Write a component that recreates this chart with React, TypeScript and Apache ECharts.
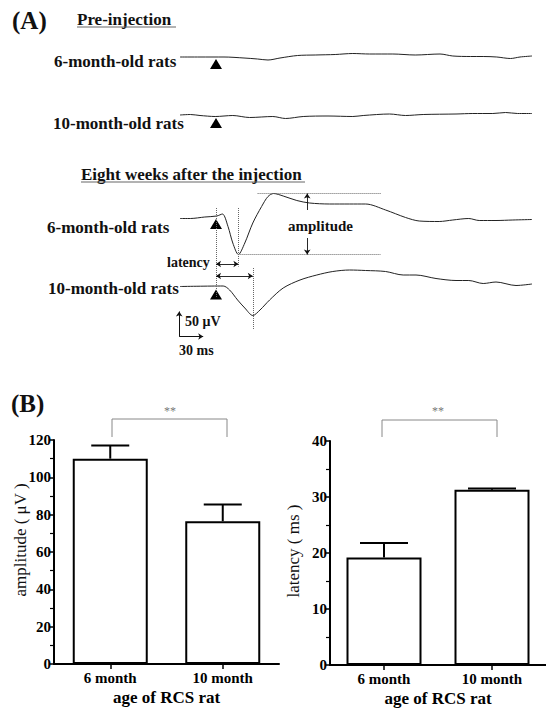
import React, { useEffect, useRef } from "react";
import * as echarts from "echarts";

const FONT = "'Liberation Serif', 'Times New Roman', serif";

// ---------- Panel A: evoked potential traces (time in ms, stimulus at 0; voltage in µV) ----------
const preSixTime = [-45, -20, 10, 35, 52, 65, 80, 102, 124, 149, 171, 192, 221, 249, 280, 296, 318, 334, 351, 368, 380, 395];
const preSixVolt = [0, 0, 0, -2, -4, -6, -2, 3, 4, 5, 7, 6, 6, 4, 6, 2, 1, 1, 0, -3, 0, 2];

const preTenTime = [-45, -32, -20, -1, 21, 42, 71, 87, 109, 140, 171, 184, 217, 237, 259, 300, 321, 346, 362, 377, 395];
const preTenVolt = [2, 3, 1, -1, 1, -3, -1, -5, -1, 0, -1, 1, 4, 1, 3, 4, 5, 5, 7, 5, 5];

const postSixTime = [-45, -32, -14, 1, 8, 15, 21, 28, 36, 46, 57, 65, 72, 84, 101, 117, 142, 167, 187, 212, 237, 254, 279, 296, 316, 329, 350, 371, 395];
const postSixVolt = [-1, -1, 2, 4, 8, -17, -50, -73, -50, -10, 23, 43, 49, 44, 35, 30, 28, 28, 28, 16, 1, -6, -7, -4, -1, -5, -5, -4, -3];

const postTenTime = [-45, 9, 17, 27, 36, 46, 55, 67, 84, 105, 126, 146, 167, 187, 212, 234, 250, 275, 300, 316, 334, 350, 375, 395];
const postTenVolt = [0, 1, -7, -27, -43, -58, -47, -27, -3, 13, 23, 30, 33, 32, 30, 23, 23, 16, 12, 12, 6, 9, 2, 5];

// stimulus marker level (µV below baseline) for each trace
const stimulusMarkerVolt = [-14, -14, -12, -16];

// annotation values (ms / µV)
const sixLatency = 28;
const tenLatency = 46;
const sixPeak = 49;
const sixTrough = -73;
const scaleTime = 30;
const scaleVolt = 50;

// ---------- Panel B: bar charts ----------
const ageCategories = ["6 month", "10 month"];
const amplitudeMeans = [110, 76.5];
const amplitudeErrors = [7, 9];
const latencyMeans = [19.2, 31.3];
const latencyErrors = [2.6, 0.2];
const amplitudeAxis = { min: 0, max: 120, interval: 20 };
const latencyAxis = { min: 0, max: 40, interval: 10 };

const zip = (t: number[], v: number[]) => t.map((x, i) => [x, v[i]]);

function txt(text: string, x: number, y: number, size: number, bold = true, align = "left", color = "#111", rotation = 0) {
  return {
    type: "text",
    x,
    y,
    rotation,
    silent: true,
    style: {
      text,
      font: `${bold ? "bold " : ""}${size}px ${FONT}`,
      fill: color,
      align,
      verticalAlign: "middle",
    },
  };
}

function hline(x1: number, x2: number, y: number, color = "#777", w = 1) {
  return { type: "line", silent: true, shape: { x1, y1: y, x2, y2: y }, style: { stroke: color, lineWidth: w } };
}

export default function App() {
  const ref = useRef<HTMLDivElement>(null);

  useEffect(() => {
    if (!ref.current) return;
    const chart = echarts.init(ref.current, null, { renderer: "svg" });

    // trace grids (0.8 px per ms, 0.5 px per µV)
    const traceX = { left: 176, width: 360 };
    const grids: any[] = [
      { ...traceX, top: 37, height: 40 },
      { ...traceX, top: 96, height: 40 },
      { ...traceX, top: 118, height: 200 },
      { ...traceX, top: 186.5, height: 200 },
      { left: 54, top: 440, width: 225, height: 224 },
      { left: 330, top: 441, width: 226, height: 224 },
    ];

    const hiddenX = (i: number) => ({ type: "value", gridIndex: i, min: -50, max: 400, show: false });
    const hiddenY = (i: number, r: number) => ({ type: "value", gridIndex: i, min: -r, max: r, show: false });

    const catAxis = (i: number) => ({
      type: "category",
      gridIndex: i,
      data: ageCategories,
      axisLine: { show: true, lineStyle: { color: "#000", width: 2 } },
      axisTick: { show: true, alignWithLabel: true, length: 5, lineStyle: { color: "#000", width: 1.5 } },
      axisLabel: { color: "#000", fontFamily: FONT, fontWeight: "bold", fontSize: 15, margin: 6 },
      name: "age of RCS rat",
      nameLocation: "middle",
      nameGap: 25,
      nameTextStyle: { color: "#000", fontFamily: FONT, fontWeight: "bold", fontSize: 17 },
    });

    const valAxis = (i: number, cfg: any) => ({
      type: "value",
      gridIndex: i,
      min: cfg.min,
      max: cfg.max,
      interval: cfg.interval,
      axisLine: { show: true, lineStyle: { color: "#000", width: 2 } },
      axisTick: { show: true, length: 5, lineStyle: { color: "#000", width: 1.5 } },
      minorTick: { show: true, splitNumber: 2, length: 4, lineStyle: { color: "#000", width: 1.2 } },
      splitLine: { show: false },
      axisLabel: { color: "#000", fontFamily: FONT, fontWeight: "bold", fontSize: 15, margin: 3 },
    });

    const traceLine = (i: number, t: number[], v: number[], markLine?: any) => ({
      type: "line",
      xAxisIndex: i,
      yAxisIndex: i,
      data: zip(t, v),
      smooth: 0.3,
      symbol: "none",
      lineStyle: { color: "#222", width: 1 },
      silent: true,
      markLine,
    });

    const dotted = { type: "dotted", color: "#666", width: 1 };
    const solid = { type: "solid", color: "#111", width: 0.9 };
    const seg = (a: number[], b: number[], style: any, s1 = "none", s2 = "none") => [
      { coord: a, symbol: s1, symbolSize: 5, lineStyle: style },
      { coord: b, symbol: s2, symbolSize: 5 },
    ];

    const sixMarks = {
      silent: true,
      animation: false,
      label: { show: false },
      symbol: ["none", "none"],
      data: [
        seg([0, 20], [0, -158], dotted),
        seg([sixLatency, 20], [sixLatency, -97], dotted),
        seg([52, sixPeak], [206, sixPeak], dotted),
        seg([sixLatency, sixTrough], [206, sixTrough], dotted),
        seg([114, 16], [114, sixPeak], solid, "none", "arrow"),
        seg([114, -40], [114, sixTrough], solid, "none", "arrow"),
        seg([0, -92], [sixLatency, -92], solid, "arrow", "arrow"),
      ],
    };

    const tenMarks = {
      silent: true,
      animation: false,
      label: { show: false },
      symbol: ["none", "none"],
      data: [
        seg([0, 21], [tenLatency, 21], solid, "arrow", "arrow"),
        seg([tenLatency, 37], [tenLatency, -87], dotted),
        seg([-46, -100], [-46, -100 + scaleVolt], { type: "solid", color: "#111", width: 1 }, "none", "arrow"),
        seg([-46, -100], [-46 + scaleTime, -100], { type: "solid", color: "#111", width: 1 }, "none", "arrow"),
      ],
    };

    const triangle = (i: number) => ({
      type: "scatter",
      xAxisIndex: i,
      yAxisIndex: i,
      data: [[0, stimulusMarkerVolt[i]]],
      symbol: "triangle",
      symbolSize: [12, 10],
      itemStyle: { color: "#000", opacity: 1 },
      silent: true,
    });

    const errorBars = (i: number, means: number[], errs: number[], cap: number) => ({
      type: "custom",
      xAxisIndex: i,
      yAxisIndex: i,
      z: 5,
      silent: true,
      data: means.map((m, k) => [k, m, m + errs[k]]),
      renderItem: (_p: any, api: any) => {
        const base = api.coord([api.value(0), api.value(1)]);
        const top = api.coord([api.value(0), api.value(2)]);
        return {
          type: "group",
          children: [
            { type: "line", shape: { x1: base[0], y1: base[1], x2: top[0], y2: top[1] }, style: { stroke: "#000", lineWidth: 2 } },
            { type: "line", shape: { x1: top[0] - cap / 2, y1: top[1], x2: top[0] + cap / 2, y2: top[1] }, style: { stroke: "#000", lineWidth: 2 } },
          ],
        };
      },
    });

    const bars = (i: number, vals: number[]) => ({
      type: "bar",
      xAxisIndex: i,
      yAxisIndex: i,
      data: vals,
      barWidth: 75,
      silent: true,
      itemStyle: { color: "#fff", borderColor: "#000", borderWidth: 2 },
    });

    const graphic: any[] = [
      txt("(A)", 12, 20, 25),
      txt("Pre-injection", 77, 19, 17),
      hline(77, 176, 27, "#666"),
      txt("6-month-old rats", 54, 61, 17),
      txt("10-month-old rats", 53, 123, 17),
      txt("Eight weeks after the injection", 81, 174, 17),
      hline(81, 305, 182, "#666"),
      txt("6-month-old rats", 47, 227, 17),
      txt("10-month-old rats", 48, 288, 17),
      txt("amplitude", 288, 226, 15),
      txt("latency", 167, 262, 14),
      txt("50 μV", 185, 321, 14),
      txt("30 ms", 179, 350, 14),
      txt("(B)", 11, 403, 25),
      txt("amplitude ( μV )", 20, 540, 17, false, "center", "#111", Math.PI / 2),
      txt("latency ( ms )", 293, 551, 17, false, "center", "#111", Math.PI / 2),
      {
        type: "polyline",
        silent: true,
        shape: { points: [[112, 437], [112, 419], [227, 419], [227, 437]] },
        style: { stroke: "#888", lineWidth: 1, fill: "none" },
      },
      txt("**", 170, 411, 12, false, "center", "#777"),
      {
        type: "polyline",
        silent: true,
        shape: { points: [[382, 437], [382, 420], [497, 420], [497, 437]] },
        style: { stroke: "#888", lineWidth: 1, fill: "none" },
      },
      txt("**", 438, 411, 12, false, "center", "#777"),
    ];

    chart.setOption({
      animation: false,
      backgroundColor: "#fff",
      grid: grids,
      xAxis: [hiddenX(0), hiddenX(1), hiddenX(2), hiddenX(3), catAxis(4), catAxis(5)],
      yAxis: [
        hiddenY(0, 40),
        hiddenY(1, 40),
        hiddenY(2, 200),
        hiddenY(3, 200),
        valAxis(4, amplitudeAxis),
        valAxis(5, latencyAxis),
      ],
      series: [
        traceLine(0, preSixTime, preSixVolt),
        traceLine(1, preTenTime, preTenVolt),
        traceLine(2, postSixTime, postSixVolt, sixMarks),
        traceLine(3, postTenTime, postTenVolt, tenMarks),
        triangle(0),
        triangle(1),
        triangle(2),
        triangle(3),
        bars(4, amplitudeMeans),
        errorBars(4, amplitudeMeans, amplitudeErrors, 38),
        bars(5, latencyMeans),
        errorBars(5, latencyMeans, latencyErrors, 48),
      ],
      graphic,
    });

    return () => chart.dispose();
  }, []);

  return <div ref={ref} style={{ position: "absolute", left: 0, top: 0, width: 546, height: 709 }} />;
}
